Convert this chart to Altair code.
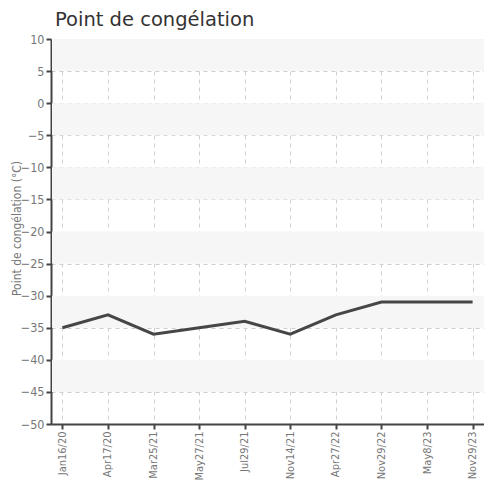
import altair as alt
import pandas as pd

dates = ["Jan16/20", "Apr17/20", "Mar25/21", "May27/21", "Jul29/21",
         "Nov14/21", "Apr27/22", "Nov29/22", "May8/23", "Nov29/23"]
values = [-35, -33, -36, -35, -34, -36, -33, -31, -31, -31]
band_lo = [5, -5, -15, -25, -35, -45]
band_hi = [10, 0, -10, -20, -30, -40]

df = pd.DataFrame({"date": dates, "value": values})
bands = pd.DataFrame({"lo": band_lo, "hi": band_hi})

label_font = "DejaVu Sans Condensed"
yscale = alt.Scale(domain=[-50, 10], nice=False, zero=False)

yaxis = alt.Axis(values=list(range(-50, 11, 5)), labelFont=label_font,
                 labelFontSize=12.5, labelColor="#777", grid=True,
                 labelOverlap=False,
                 gridColor="#cfcfcf", gridDash=[4, 4], domainColor="#444",
                 domainWidth=2, tickColor="#444", tickSize=5, tickWidth=2,
                 titleFont=label_font, titleFontSize=12, titleColor="#777",
                 titleFontWeight="normal", titleX=-28, titleY=189,
                 titleAngle=270, titleBaseline="bottom", titleAlign="center",
                 labelPadding=2)

band_layer = alt.Chart(bands).mark_rect(color="#f6f6f6").encode(
    y=alt.Y("hi:Q", scale=yscale, axis=yaxis, title="Point de congélation (°C)"),
    y2="lo:Q",
    x=alt.value(1),
    x2=alt.value(433),
)

line = alt.Chart(df).mark_line(color="#464646", strokeWidth=3).encode(
    x=alt.X("date:N", sort=dates, title=None,
            scale=alt.Scale(type="point", padding=0.25),
            axis=alt.Axis(labelAngle=270, labelFont=label_font, labelFontSize=11,
                          labelColor="#777", grid=True, gridColor="#cfcfcf",
                          gridDash=[4, 4], domainColor="#444", domainWidth=2,
                          tickColor="#444", tickSize=5, tickWidth=2, labelPadding=2)),
    y=alt.Y("value:Q", scale=yscale, axis=yaxis, title="Point de congélation (°C)"),
)

chart = alt.layer(band_layer, line).properties(
    width=433,
    height=385,
    autosize=alt.AutoSizeParams(type="none"),
    padding={"left": 43, "top": 31, "right": 0, "bottom": 58},
    title=alt.TitleParams("Point de congélation", anchor="start", frame="group",
                          font="DejaVu Sans", fontSize=19.5, fontWeight="normal",
                          color="#333", offset=3, dx=4),
).configure_view(stroke=None)

chart.save("out.html", embed_options={"renderer": "svg", "actions": False})
